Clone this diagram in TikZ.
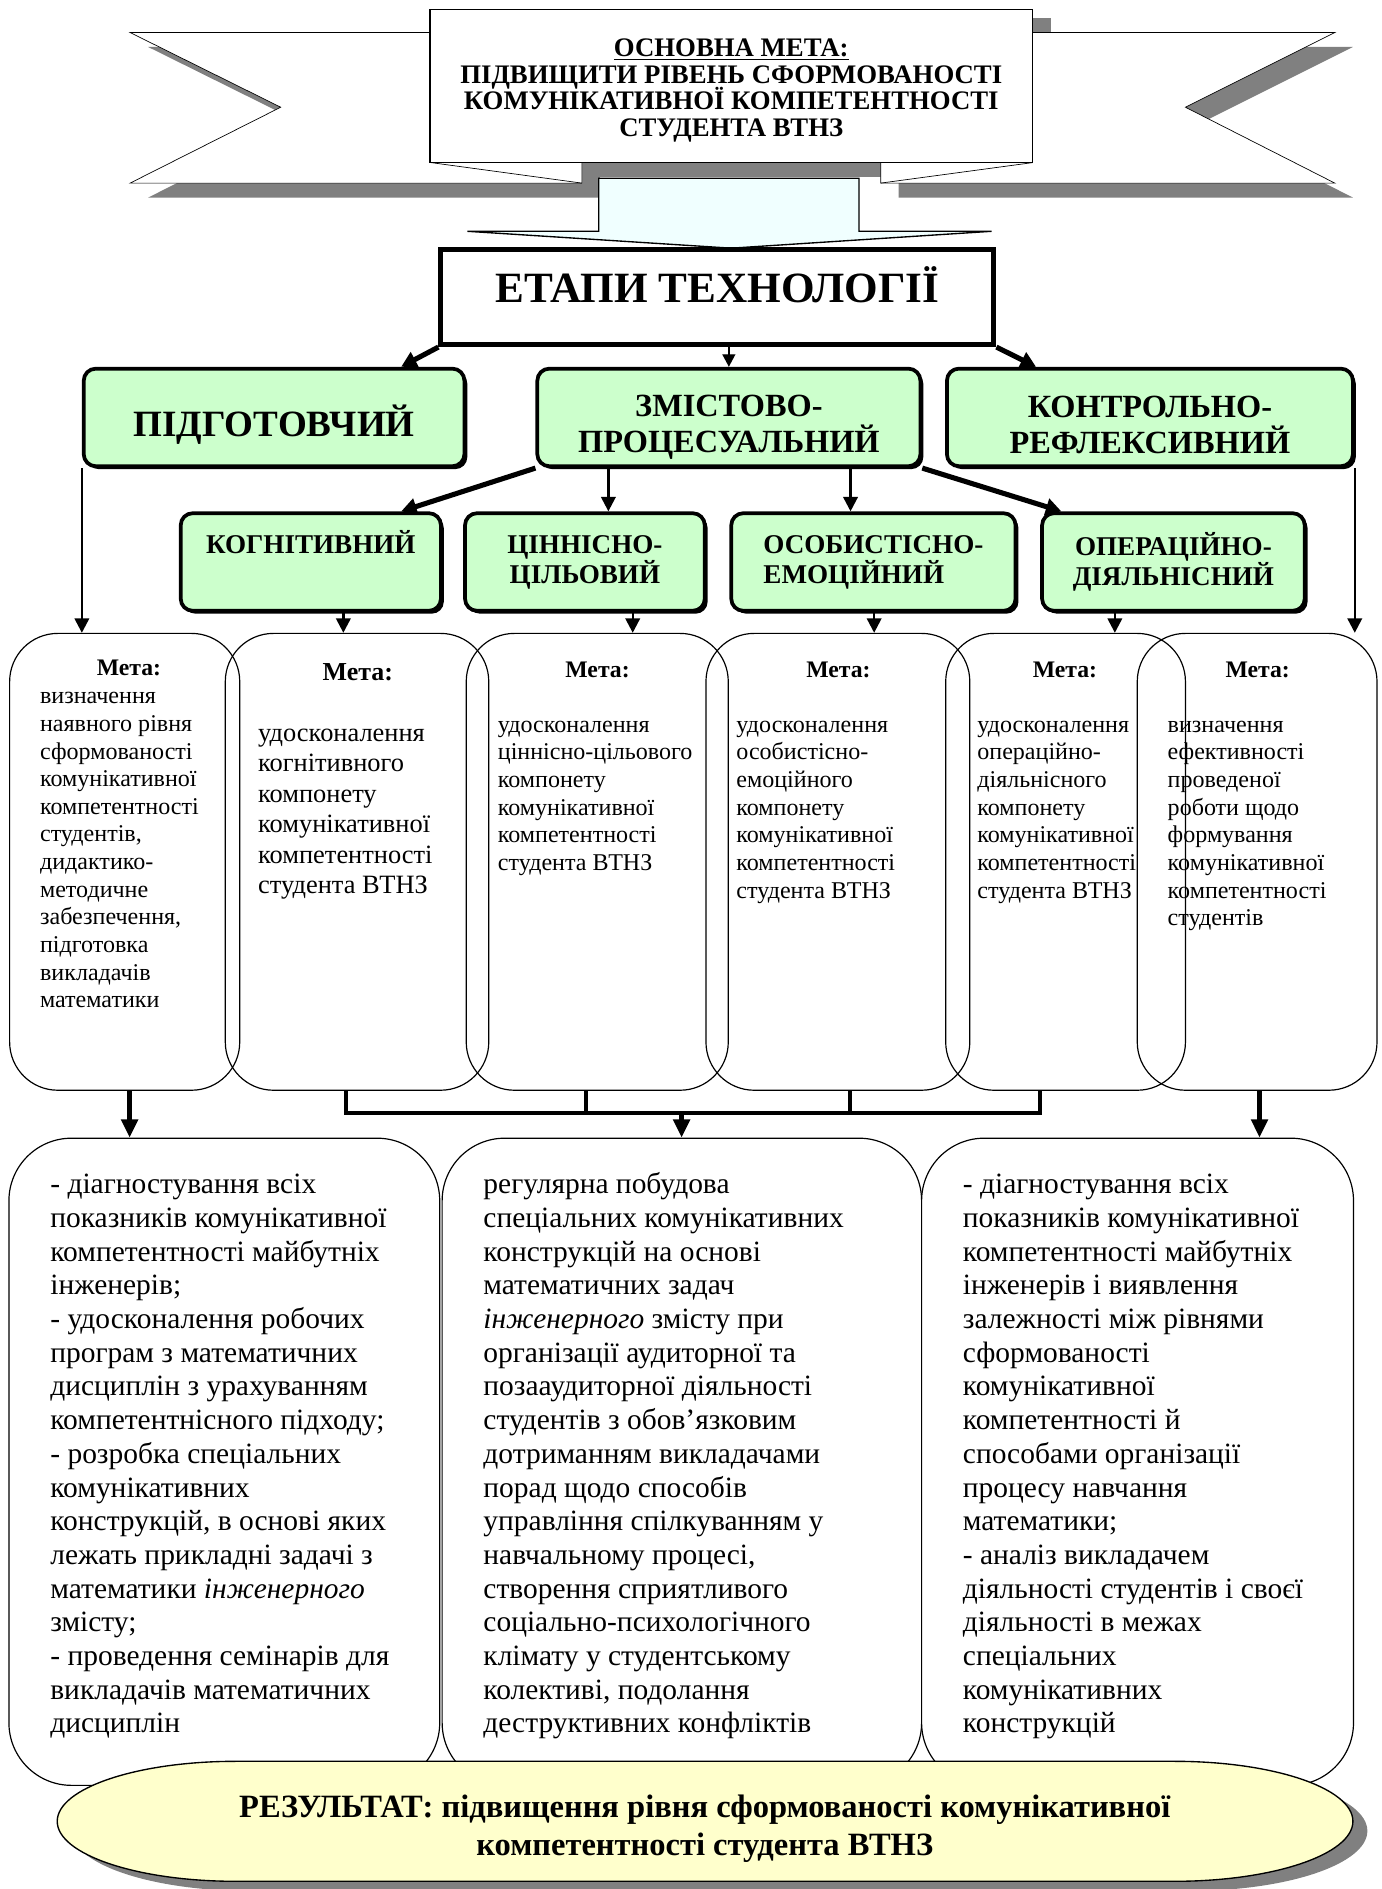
\documentclass[tikz,border=0pt]{standalone}
\usepackage{fontspec}
\setmainfont{Liberation Serif}
\usetikzlibrary{arrows.meta}
\usetikzlibrary{shadows}

\definecolor{stagegreen}{HTML}{CCFFCC}
\definecolor{resyellow}{HTML}{FFFFCC}
\definecolor{arrowcyan}{HTML}{F0FFFF}
\definecolor{shadowgray}{HTML}{808080}

\begin{document}
\begin{tikzpicture}[
	stage/.style = {draw, line width=2.2pt, rounded corners=0.25cm, fill=stagegreen, inner sep=0pt, minimum height=2.025cm, align=center, drop shadow={shadow xshift=0.06cm, shadow yshift=-0.06cm, fill=black, opacity=1}},
	substage/.style = {stage, font=\bfseries\fontsize{16}{17.8}\selectfont},
	goalbox/.style = {draw, line width=0.7pt, rounded corners=1cm, minimum height=9.48cm, inner sep=0pt},
	metahead/.style = {inner sep=0pt, font=\bfseries\fontsize{14}{16}\selectfont},
	metabody/.style = {inner sep=0pt, anchor=north west, align=left, font=\fontsize{14.2}{16.3}\selectfont},
	lowbox/.style = {draw, fill=white, line width=0.7pt, rounded corners=1.3cm, minimum height=13.43cm, inner sep=0pt},
	lowtext/.style = {inner sep=0pt, anchor=north west, align=left, font=\fontsize{17.4}{19.9}\selectfont},
	thinarr/.style = {line width=0.8pt, -{Triangle[length=0.26cm, width=0.27cm]}},
	medarr/.style = {line width=1.4pt, -{Triangle[length=0.3cm, width=0.3cm]}},
	diag/.style = {line width=3pt, -{Triangle[length=0.32cm, width=0.34cm]}},
	thickline/.style = {line width=2.6pt},
	thickarr/.style = {line width=2.6pt, -{Triangle[length=0.38cm, width=0.34cm]}}]
				\useasboundingbox (0,0) rectangle (28.675,-39.2);
				\fill[shadowgray] (9.325,-0.375) rectangle (21.8,-3.675);
				\fill[shadowgray] (3.075,-0.975) -- (6.2,-2.525) -- (3.075,-4.1) -- (12.45,-4.1) -- (12.45,-0.975) -- cycle;
				\fill[shadowgray] (21.8,-0.975) -- (28.075,-0.975) -- (24.975,-2.525) -- (28.075,-4.1) -- (18.65,-4.1) -- (18.65,-0.975) -- cycle;
				\draw[fill=white] (8.95,-0.675) -- (2.7,-0.675) -- (5.825,-2.225) -- (2.7,-3.8) -- (12.075,-3.8) -- (12.075,-3.375) -- (8.95,-3.375) -- cycle;
				\draw (8.95,-3.375) -- (12.075,-3.8);
				\draw[fill=white] (21.425,-0.675) -- (27.7,-0.675) -- (24.6,-2.225) -- (27.7,-3.8) -- (18.275,-3.8) -- (18.275,-3.375) -- (21.425,-3.375) -- cycle;
				\draw (21.425,-3.375) -- (18.275,-3.8);
				\node[draw, fill=white, line width=0.8pt, minimum width=12.5cm, minimum height=3.175cm, inner sep=0pt, align=center, font={\bfseries\fontsize{15.8}{15.8}\selectfont\lineskiplimit-20pt\relax}] (aim) at (15.175,-1.7875) {\rule{0pt}{0.55cm}\underline{ОСНОВНА МЕТА:}\\ПІДВИЩИТИ РІВЕНЬ СФОРМОВАНОСТІ\\КОМУНІКАТИВНОЇ КОМПЕТЕНТНОСТІ\\СТУДЕНТА ВТНЗ};
				\draw[fill=arrowcyan, line width=0.8pt] (12.425,-3.7) -- (17.825,-3.7) -- (17.825,-4.8) -- (20.575,-4.8) -- (15.175,-5.15) -- (9.7,-4.8) -- (12.425,-4.8) -- cycle;

				\node[draw, line width=3pt, minimum width=11.475cm, minimum height=1.975cm, inner sep=0pt, text height=0.6cm, text depth=0.365cm, font=\bfseries\fontsize{25.5}{28}\selectfont] (etapy) at (14.8875,-6.1625) {ЕТАПИ ТЕХНОЛОГІЇ};

				\node[stage, minimum width=7.9cm, text height=0.9cm, text depth=0.1cm, font=\bfseries\fontsize{21.9}{24}\selectfont] (pidg) at (5.6875,-8.6625) {ПІДГОТОВЧИЙ};
				\node[stage, minimum width=7.95cm, font=\bfseries\fontsize{19.1}{21.6}\selectfont] (zmist) at (15.125,-8.6625) {\rule{0pt}{0.85cm}ЗМІСТОВО-\\ПРОЦЕСУАЛЬНИЙ};
				\node[stage, minimum width=8.425cm, font=\bfseries\fontsize{19.1}{21.6}\selectfont] (kontr) at (23.8625,-8.6625) {\rule{0pt}{0.75cm}КОНТРОЛЬНО-\\РЕФЛЕКСИВНИЙ};

				\node[substage, minimum width=5.4cm, text height=0.4cm, text depth=0.75cm] (kog) at (6.45,-11.6625) {КОГНІТИВНИЙ};
				\node[substage, minimum width=4.975cm] (tsin) at (12.1375,-11.6625) {ЦІННІСНО-\\ЦІЛЬОВИЙ};
				\node[substage, minimum width=5.9cm, align=left] (osob) at (18.125,-11.6625) {ОСОБИСТІСНО-\\ЕМОЦІЙНИЙ};
				\node[substage, minimum width=5.45cm] (oper) at (24.35,-11.6625) {ОПЕРАЦІЙНО-\\ДІЯЛЬНІСНИЙ};

				\node[goalbox, minimum width=4.775cm] (g1) at (2.5875,-17.884) {};
				\node[goalbox, minimum width=5.4675cm] (g2) at (7.409,-17.884) {};
				\node[goalbox, minimum width=5.4375cm] (g3) at (12.394,-17.884) {};
				\node[goalbox, minimum width=5.475cm] (g4) at (17.3875,-17.884) {};
				\node[goalbox, minimum width=4.975cm] (g5) at (22.1125,-17.884) {};
				\node[goalbox, minimum width=4.975cm] (g6) at (26.0875,-17.884) {};

				\node[metahead] (m1) at (2.675,-13.85) {Мета:};
				\node[metahead, font=\bfseries\fontsize{15.3}{17}\selectfont] (m2) at (7.425,-13.95) {Мета:};
				\node[metahead] (m3) at (12.4,-13.9) {Мета:};
				\node[metahead] (m4) at (17.4,-13.9) {Мета:};
				\node[metahead] (m5) at (22.1,-13.9) {Мета:};
				\node[metahead] (m6) at (26.1,-13.9) {Мета:};

				\node[metabody] (b1) at (0.825,-14.2) {\strut визначення\\наявного рівня\\сформованості\\комунікативної\\компетентності\\студентів,\\дидактико-\\методичне\\забезпечення,\\підготовка\\викладачів\\математики};
				\node[metabody, font=\fontsize{15.6}{18}\selectfont] (b2) at (5.35,-14.93) {\strut удосконалення\\когнітивного\\компонету\\комунікативної\\компетентності\\студента ВТНЗ};
				\node[metabody] (b3) at (10.325,-14.79) {\strut удосконалення\\ціннісно-цільового\\компонету\\комунікативної\\компетентності\\студента ВТНЗ};
				\node[metabody] (b4) at (15.275,-14.79) {\strut удосконалення\\особистісно-\\емоційного\\компонету\\комунікативної\\компетентності\\студента ВТНЗ};
				\node[metabody] (b5) at (20.275,-14.79) {\strut удосконалення\\операційно-\\діяльнісного\\компонету\\комунікативної\\компетентності\\студента ВТНЗ};
				\node[metabody] (b6) at (24.225,-14.79) {\strut визначення\\ефективності\\проведеної\\роботи щодо\\формування\\комунікативної\\компетентності\\студентів};

				\node[lowbox, minimum width=8.94cm] (lowl) at (4.655,-30.334) {};
				\node[lowbox, minimum width=9.95cm] (lowm) at (14.15,-30.334) {};
				\node[lowbox, minimum width=8.9625cm] (lowr) at (23.606,-30.334) {};

				\node[lowtext] (tl) at (1.0375,-24.275) {\strut - діагностування всіх\\показників комунікативної\\компетентності майбутніх\\інженерів;\\- удосконалення робочих\\програм з математичних\\дисциплін з урахуванням\\компетентнісного підходу;\\- розробка спеціальних\\комунікативних\\конструкцій, в основі яких\\лежать прикладні задачі з\\математики \textit{інженерного}\\змісту;\\- проведення семінарів для\\викладачів математичних\\дисциплін};
				\node[lowtext] (tm) at (10.025,-24.275) {\strut регулярна побудова\\спеціальних комунікативних\\конструкцій на основі\\математичних задач\\\textit{інженерного} змісту при\\організації аудиторної та\\позааудиторної діяльності\\студентів з обов’язковим\\дотриманням викладачами\\порад щодо способів\\управління спілкуванням у\\навчальному процесі,\\створення сприятливого\\соціально-психологічного\\клімату у студентському\\колективі, подолання\\деструктивних конфліктів};
				\node[lowtext] (tr) at (19.975,-24.275) {\strut - діагностування всіх\\показників комунікативної\\компетентності майбутніх\\інженерів і виявлення\\залежності між рівнями\\сформованості\\комунікативної\\компетентності й\\способами організації\\процесу навчання\\математики;\\- аналіз викладачем\\діяльності студентів і своєї\\діяльності в межах\\спеціальних\\комунікативних\\конструкцій};

				\coordinate (join) at (14.145,-23.1);

				\draw[diag] (etapy.south west) -- (8.325,0 |- pidg.north);
				\draw[thinarr] (zmist.north |- etapy.south) -- (zmist.north);
				\draw[diag] (etapy.south east) -- (21.5,0 |- kontr.north);
				\draw[diag] (zmist.south west) -- (8.325,0 |- kog.north);
				\draw[medarr] (12.625,0 |- zmist.south) -- (12.625,0 |- tsin.north);
				\draw[medarr] (17.65,0 |- zmist.south) -- (17.65,0 |- osob.north);
				\draw[diag] (zmist.south east) -- (22.025,0 |- oper.north);
				\draw[medarr] (pidg.south west) -- (pidg.south west |- g1.north);
				\draw[medarr] (kontr.south east) -- (kontr.south east |- g6.north);
				\draw[medarr] (7.125,0 |- kog.south) -- (7.125,0 |- g2.north);
				\draw[medarr] (13.13,0 |- tsin.south) -- (13.13,0 |- g3.north);
				\draw[medarr] (18.14,0 |- osob.south) -- (18.14,0 |- g4.north);
				\draw[medarr] (23.135,0 |- oper.south) -- (23.135,0 |- g5.north);

				\draw[thickarr] (2.69,0 |- g1.south) -- (2.69,0 |- lowl.north);
				\draw[thickline] (7.175,0 |- g2.south) |- (join) -| (21.585,0 |- g5.south);
				\draw[thickline] (12.1625,0 |- g3.south) -- (12.1625,0 |- join);
				\draw[thickline] (17.64,0 |- g4.south) -- (17.64,0 |- join);
				\draw[thickarr] (join) -- (join |- lowm.north);
				\draw[thickarr] (26.1375,0 |- g6.south) -- (26.1375,0 |- lowr.north);

				\fill[shadowgray] (5.1875,-36.75) -- (24.675,-36.75) arc[start angle=90, end angle=-90, x radius=3.7cm, y radius=1.245cm] -- (5.1875,-39.24) arc[start angle=270, end angle=90, x radius=3.7cm, y radius=1.245cm] -- cycle;
				\draw[fill=resyellow, line width=0.8pt] (4.8875,-36.55) -- (24.375,-36.55) arc[start angle=90, end angle=-90, x radius=3.7cm, y radius=1.245cm] -- (4.8875,-39.04) arc[start angle=270, end angle=90, x radius=3.7cm, y radius=1.245cm] -- cycle;
				\node[inner sep=0pt, align=center, font=\bfseries\fontsize{19.2}{22.7}\selectfont] (res) at (14.625,-37.95) {РЕЗУЛЬТАТ: підвищення рівня сформованості комунікативної\\компетентності студента ВТНЗ};
			\end{tikzpicture}
\end{document}
